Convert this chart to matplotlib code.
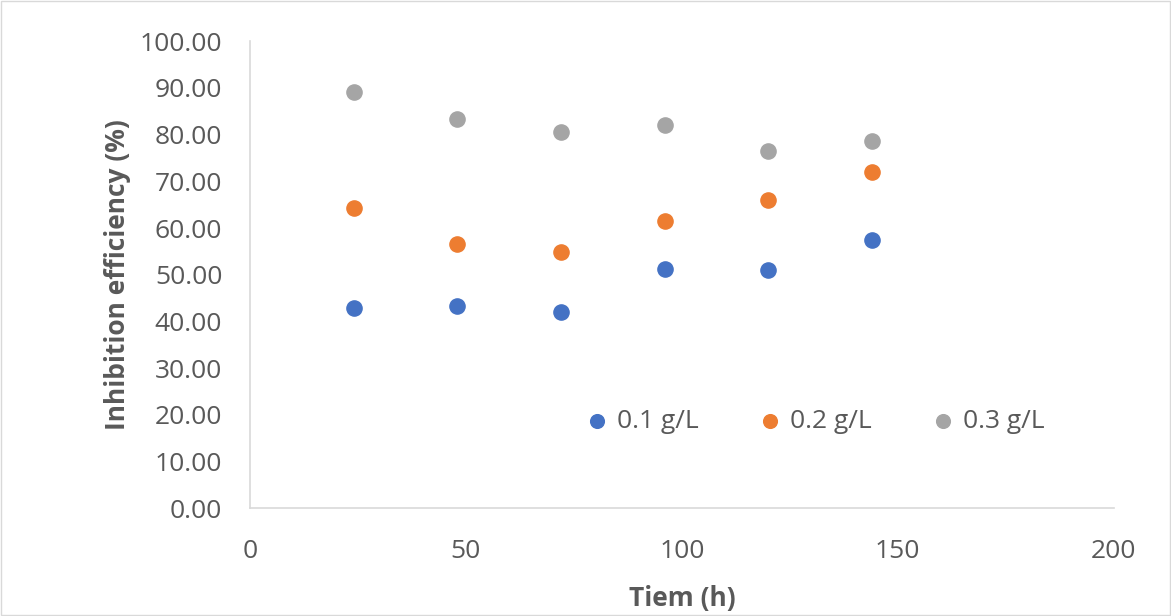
import matplotlib.pyplot as plt
from matplotlib.ticker import FormatStrFormatter

plt.rcParams['font.family'] = ['Open Sans', 'DejaVu Sans']

# data
time_h = [24, 48, 72, 96, 120, 144]
ie_01 = [42.8, 43.3, 42.0, 51.2, 51.0, 57.4]
ie_02 = [64.2, 56.5, 54.8, 61.5, 66.0, 72.0]
ie_03 = [89.1, 83.3, 80.5, 82.0, 76.4, 78.6]
labels = ['0.1 g/L', '0.2 g/L', '0.3 g/L']
colors = ['#4472C4', '#ED7D31', '#A5A5A5']

fig = plt.figure(figsize=(11.71, 6.16), dpi=100)
ax = fig.add_axes([0.2135, 0.175, 0.7375, 0.758])

for ys, lab, c in zip([ie_01, ie_02, ie_03], labels, colors):
    ax.scatter(time_h, ys, s=120, color=c, label=lab, zorder=3)

ax.set_xlim(0, 200)
ax.set_ylim(0, 100)
ax.set_xticks(range(0, 201, 50))
ax.set_yticks(range(0, 101, 10))
ax.yaxis.set_major_formatter(FormatStrFormatter('%.2f'))
ax.tick_params(length=0, labelsize=19, colors='#595959')
ax.tick_params(axis='x', pad=22)
ax.tick_params(axis='y', pad=20)

for s in ['top', 'right']:
    ax.spines[s].set_visible(False)
for s in ['left', 'bottom']:
    ax.spines[s].set_color('#D9D9D9')
    ax.spines[s].set_linewidth(1.2)

ax.set_xlabel('Tiem (h)', fontsize=19, fontweight='bold', color='#595959', labelpad=15)
ax.set_ylabel('Inhibition efficiency (%)', fontsize=19, fontweight='bold', color='#595959', labelpad=6)

ax.legend(loc='center', bbox_to_anchor=(0.655, 0.185), ncol=3, frameon=False,
          fontsize=19, handlelength=0.8, handletextpad=0.35, columnspacing=2.3,
          markerscale=0.9, labelcolor='#595959')

fig.patches.append(plt.Rectangle((0.001, 0.001), 0.998, 0.997, transform=fig.transFigure,
                                 fill=False, edgecolor='#D9D9D9', linewidth=1))

fig.savefig('out.png', dpi=100)
